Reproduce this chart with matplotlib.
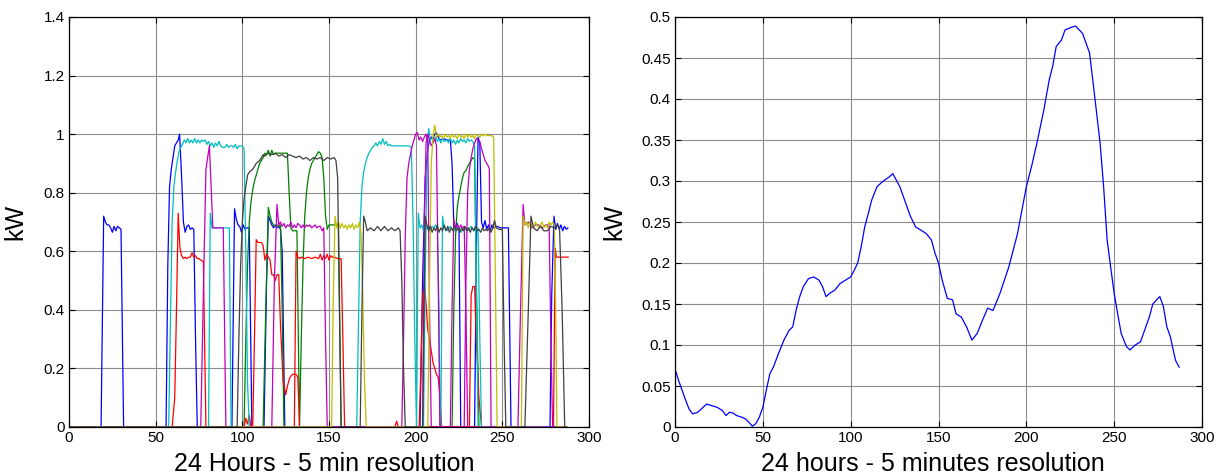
import matplotlib
matplotlib.use('Agg')
import matplotlib.pyplot as plt
from matplotlib.ticker import FuncFormatter

plt.rcParams['font.family'] = ['Liberation Sans', 'DejaVu Sans']

# ---- left panel: appliance on/off cycles, (x breakpoints, kW) ----
blue_cycles = [
    ([18.5, 20, 21, 22, 23, 24, 25, 26, 27, 28, 29, 30, 31.5],
     [0, 0.72, 0.70, 0.69, 0.69, 0.68, 0.665, 0.685, 0.67, 0.685, 0.68, 0.675, 0]),
    ([56, 57, 58, 59, 60, 61, 62, 63, 63.8, 65, 66, 67, 68, 69, 70, 71, 72, 73, 74],
     [0, 0.55, 0.82, 0.88, 0.92, 0.96, 0.97, 0.98, 1.0, 0.85, 0.70, 0.665, 0.685, 0.69, 0.675, 0.68, 0.675, 0.3, 0]),
    ([94, 95.5, 96.5, 97.5, 98.5, 99.5, 100.5, 101.5, 102.5, 104, 105.5],
     [0, 0.745, 0.71, 0.69, 0.685, 0.665, 0.69, 0.675, 0.68, 0.68, 0]),
    ([112.5, 114, 115, 116, 117, 118, 119, 120, 121, 122, 123, 124.5],
     [0, 0.5, 0.72, 0.705, 0.69, 0.68, 0.69, 0.68, 0.685, 0.675, 0.6, 0]),
    ([202.5, 204, 205.5, 207, 208, 209, 210, 211, 212, 213, 214, 216, 218, 220, 221, 222, 223, 224, 225, 226],
     [0, 0.5, 0.85, 0.95, 0.98, 0.99, 0.985, 1.0, 1.005, 0.99, 0.98, 0.985, 0.98, 0.98, 0.9, 0.69, 0.68, 0.695, 0.675, 0]),
    ([234, 235, 236, 237, 238, 239, 240, 241, 242, 243, 244, 245, 247, 249, 251, 253.5, 255],
     [0, 0.6, 0.99, 0.97, 0.7, 0.68, 0.705, 0.675, 0.69, 0.67, 0.69, 0.68, 0.685, 0.68, 0.68, 0.68, 0]),
    ([277.5, 278.5, 279.8, 280.8, 281.8, 282.8, 283.8, 284.8, 285.8, 286.8, 287.8],
     [0, 0.45, 0.72, 0.675, 0.695, 0.675, 0.69, 0.67, 0.685, 0.675, 0.68]),
]

red_cycles = [
    ([59.5, 61, 62, 63, 64, 65, 66, 67, 68, 69, 70, 71, 72, 73, 74, 75, 76, 77.5, 79],
     [0, 0.1, 0.4, 0.73, 0.61, 0.585, 0.575, 0.58, 0.575, 0.58, 0.58, 0.595, 0.58, 0.585, 0.575, 0.575, 0.57, 0.565, 0]),
    ([101, 102, 103, 104, 105],
     [0, 0.03, 0.01, 0.04, 0]),
    ([106, 107, 108, 109, 110, 111, 112, 113, 114, 115, 116, 117, 118, 119, 120, 121, 122,
      123.5, 125, 126, 127.5, 129, 131, 132, 133],
     [0, 0.3, 0.64, 0.63, 0.63, 0.63, 0.62, 0.57, 0.59, 0.58, 0.57, 0.52, 0.52, 0.50, 0.52, 0.52, 0.35,
      0.16, 0.11, 0.14, 0.17, 0.18, 0.18, 0.17, 0]),
    ([130, 131, 132, 133, 134, 136, 138, 140, 142, 144, 145, 146, 147, 148, 149, 150, 151, 152, 153, 155, 157, 158, 159],
     [0, 0.6, 0.58, 0.575, 0.58, 0.575, 0.58, 0.575, 0.58, 0.575, 0.59, 0.57, 0.585, 0.575, 0.59, 0.57, 0.585,
      0.58, 0.58, 0.575, 0.575, 0.3, 0]),
    ([188, 189, 190], [0, 0.02, 0]),
    ([202, 203, 204, 205, 206, 207, 208, 209, 210, 211, 212, 213, 214, 215],
     [0, 0.2, 0.45, 0.49, 0.42, 0.33, 0.3, 0.26, 0.22, 0.2, 0.18, 0.17, 0.1, 0]),
    ([231, 232, 233, 234, 235, 236.5, 238],
     [0, 0.45, 0.48, 0.48, 0.3, 0.1, 0]),
    ([279.5, 280.5, 281.2, 282, 284, 286, 288],
     [0, 0.61, 0.58, 0.58, 0.58, 0.58, 0.58]),
]

green_cycles = [
    ([101, 102, 103, 104, 105, 106, 107, 108, 109, 110, 111, 112, 113, 114, 115, 116, 117, 118, 119, 120,
      122, 124, 126, 127, 128, 129, 130, 131.5, 133],
     [0, 0.3, 0.55, 0.7, 0.77, 0.81, 0.84, 0.86, 0.88, 0.9, 0.91, 0.92, 0.935, 0.93, 0.945, 0.925, 0.945, 0.93, 0.935, 0.935,
      0.935, 0.935, 0.935, 0.8, 0.68, 0.67, 0.67, 0.67, 0]),
    ([112, 113.5, 115, 116, 117, 118, 119, 120, 121, 122, 123, 124],
     [0, 0.4, 0.75, 0.72, 0.70, 0.69, 0.685, 0.69, 0.685, 0.69, 0.4, 0]),
    ([133, 134, 135, 136, 137, 138, 139, 140, 141, 142, 143, 144, 145, 146, 147, 148, 149, 150, 152, 154, 155.5, 157],
     [0, 0.3, 0.55, 0.72, 0.8, 0.85, 0.88, 0.9, 0.91, 0.92, 0.93, 0.94, 0.935, 0.92, 0.85, 0.72, 0.675, 0.69, 0.69, 0.69, 0.69, 0]),
    ([221, 222, 223, 224, 225, 226, 227, 228, 229, 230, 231, 232, 233, 234, 235, 236.5],
     [0, 0.4, 0.65, 0.75, 0.79, 0.82, 0.85, 0.87, 0.875, 0.89, 0.9, 0.91, 0.92, 0.915, 0.5, 0]),
]

cyan_cycles = [
    ([57.5, 58.5, 59.5, 60.5, 61.5, 62.5, 63.5, 64.5, 65.5, 66.5, 67.5, 68.5, 69.5, 70.5, 71.5, 72.5, 73.5, 74.5,
      75.5, 76.5, 77.5, 78.5, 79.5, 80.5, 81.5, 82.5, 83.5, 84.5, 85.5, 86.5, 87.5, 88.5, 90, 91, 92, 93, 94, 95,
      96, 97, 98, 99, 100, 101, 102, 103, 104],
     [0, 0.35, 0.7, 0.82, 0.87, 0.91, 0.94, 0.955, 0.965, 0.98, 0.97, 0.985, 0.97, 0.98, 0.97, 0.985, 0.97, 0.98,
      0.97, 0.98, 0.975, 0.98, 0.965, 0.975, 0.96, 0.97, 0.955, 0.97, 0.96, 0.975, 0.96, 0.955, 0.955, 0.965, 0.955,
      0.96, 0.96, 0.955, 0.965, 0.95, 0.96, 0.96, 0.96, 0.95, 0.6, 0.15, 0]),
    ([80.5, 81.5, 82.5, 84, 86, 88, 90, 92.5, 93.5],
     [0, 0.73, 0.68, 0.68, 0.68, 0.68, 0.68, 0.68, 0]),
    ([166, 167, 168, 169, 170, 171, 172, 173, 174, 175, 176, 177, 178, 179, 180, 181, 182, 183, 184, 185, 186,
      188, 190, 192, 194, 196, 197.5, 198.5, 199.5, 200.5],
     [0, 0.35, 0.7, 0.82, 0.87, 0.9, 0.92, 0.935, 0.945, 0.955, 0.96, 0.97, 0.96, 0.975, 0.965, 0.985, 0.965, 0.975,
      0.96, 0.965, 0.96, 0.96, 0.96, 0.96, 0.96, 0.96, 0.955, 0.7, 0.3, 0]),
    ([200.5, 201.5, 202.5, 203.5, 204.5, 205.5, 206.5, 207.5, 208.5, 209.5, 210.5, 211.5, 212.5, 213.5, 214],
     [0, 0.73, 0.68, 0.69, 0.67, 0.695, 0.675, 0.69, 0.67, 0.685, 0.68, 0.69, 0.675, 0.4, 0]),
    ([204.5, 205.5, 206.5, 207.5, 208.5, 209.5, 210.5, 211.5, 212.5, 213.5, 214.5, 215.5, 216.5, 218, 219, 220,
      221, 222, 223, 224, 225, 226, 227, 228, 229, 230, 231, 232, 233, 234, 235, 236],
     [0, 0.5, 0.9, 1.02, 0.98, 0.985, 0.975, 0.99, 0.975, 0.985, 0.97, 0.985, 0.975, 0.98, 0.97, 0.985,
      0.97, 0.98, 0.965, 0.98, 0.97, 0.985, 0.975, 0.98, 0.97, 0.985, 0.975, 0.98, 0.975, 0.96, 0.5, 0]),
    ([214.5, 215.5, 216.5, 218, 220, 222, 224, 226, 228, 230, 232, 234, 236, 237, 238],
     [0, 0.72, 0.68, 0.67, 0.685, 0.67, 0.68, 0.665, 0.68, 0.67, 0.685, 0.67, 0.68, 0.3, 0]),
]

magenta_cycles = [
    ([76, 77, 78, 79, 80, 81, 82, 83, 85, 87, 89, 90.5],
     [0, 0.3, 0.6, 0.88, 0.92, 0.96, 0.82, 0.68, 0.68, 0.68, 0.68, 0]),
    ([117, 118.5, 120, 121, 122, 123, 124, 125, 126, 127, 128, 129, 130, 131, 132, 133, 134, 135, 136, 137, 138,
      139, 140, 141, 142, 143, 144, 145, 146, 147, 148, 149],
     [0, 0.5, 0.76, 0.69, 0.7, 0.685, 0.695, 0.68, 0.69, 0.685, 0.7, 0.68, 0.69, 0.68, 0.695, 0.69, 0.68, 0.69,
      0.68, 0.69, 0.685, 0.69, 0.68, 0.685, 0.69, 0.68, 0.685, 0.685, 0.67, 0.68, 0.3, 0]),
    ([192, 193, 194, 195, 196, 197, 198, 199, 200, 201, 202, 203, 204, 205, 206, 207, 208, 209],
     [0, 0.3, 0.65, 0.85, 0.9, 0.93, 0.96, 0.98, 1.0, 1.005, 0.98, 0.99, 0.975, 0.99, 1.0, 0.97, 0.4, 0]),
    ([204, 205, 206, 207, 208, 209, 210, 211, 212, 213, 214],
     [0, 0.7, 0.97, 1.0, 0.98, 0.96, 0.97, 0.985, 0.96, 0.5, 0]),
    ([220, 221, 222, 223, 224, 225, 226, 227, 228, 229, 230],
     [0, 0.4, 0.71, 0.68, 0.69, 0.675, 0.69, 0.68, 0.685, 0.4, 0]),
    ([228, 229, 230, 231, 232, 233, 234, 235, 236, 237, 238, 239, 240, 241, 242, 242.5, 243.5],
     [0, 0.5, 0.8, 0.88, 0.92, 0.95, 0.97, 0.985, 0.98, 0.975, 0.95, 0.93, 0.91, 0.9, 0.89, 0.88, 0]),
    ([259, 260.5, 262, 263, 265, 267, 269, 271, 273, 275, 277, 278, 279],
     [0, 0.4, 0.76, 0.69, 0.7, 0.68, 0.69, 0.69, 0.68, 0.69, 0.69, 0.3, 0]),
]

yellow_cycles = [
    ([151.5, 152.5, 153.5, 154.5, 155.5, 156.5, 157.5, 158.5, 159.5, 160.5, 161.5, 162.5, 163.5, 164.5, 165.5,
      166.5, 167.5, 168.5, 169.5, 170.5, 171.5],
     [0, 0.45, 0.72, 0.68, 0.7, 0.68, 0.695, 0.68, 0.69, 0.675, 0.69, 0.68, 0.695, 0.675, 0.69,
      0.68, 0.7, 0.66, 0.45, 0.15, 0]),
    ([207, 208, 209, 210, 211, 212, 213, 214, 215, 216, 217, 218, 219, 220, 221, 222, 223, 224, 225, 226, 227,
      228, 229, 230, 231, 232, 233, 234, 235, 236, 237, 238, 239, 240, 241, 242, 243, 244, 245, 246, 247],
     [0, 0.5, 0.9, 0.99, 1.03, 0.99, 1.0, 0.99, 0.995, 0.985, 1.0, 0.99, 0.995, 0.985, 1.0, 0.99, 0.995, 0.985,
      1.0, 0.99, 0.995, 0.985, 1.0, 0.99, 1.0, 0.99, 0.995, 0.985, 1.0, 0.995, 0.99, 1.0, 0.995, 1.0, 0.995,
      0.995, 0.995, 0.995, 0.99, 0.5, 0]),
    ([261, 262, 263, 264, 265, 266, 267, 268, 269, 270, 271, 272, 273, 274, 275, 276, 277, 278, 279, 280, 281, 281.5],
     [0, 0.72, 0.69, 0.7, 0.68, 0.7, 0.69, 0.68, 0.7, 0.69, 0.68, 0.69, 0.7, 0.68, 0.69, 0.68, 0.7, 0.69, 0.7,
      0.69, 0.3, 0]),
]

black_cycles = [
    ([97, 98, 99, 100, 101, 102, 103, 104, 105, 106, 107, 108, 109, 110, 111, 112, 113, 115, 117, 119, 121, 123,
      125, 127, 129, 131, 133, 135, 137, 139, 141, 143, 145, 147, 149, 151, 153, 154, 155, 156, 157],
     [0, 0.3, 0.55, 0.7, 0.78, 0.82, 0.86, 0.87, 0.875, 0.88, 0.89, 0.9, 0.905, 0.91, 0.92, 0.93, 0.925, 0.935,
      0.93, 0.935, 0.925, 0.93, 0.92, 0.93, 0.925, 0.92, 0.925, 0.915, 0.92, 0.91, 0.92, 0.915, 0.92, 0.91, 0.92,
      0.915, 0.92, 0.91, 0.85, 0.4, 0]),
    ([168, 169, 170, 171, 172, 174, 176, 178, 180, 182, 184, 186, 188, 190, 191, 192, 193, 194],
     [0, 0.4, 0.72, 0.7, 0.67, 0.68, 0.67, 0.685, 0.67, 0.685, 0.67, 0.68, 0.67, 0.68, 0.67, 0.5, 0.2, 0]),
    ([204, 205.5, 206.5, 207.5, 208.5, 209.5, 210.5, 211.5, 212.5, 213.5, 214.5, 215.5, 216.5, 217.5, 218.5,
      219.5, 220.5, 221.5, 222.5, 223.5, 224.5, 225.5, 226.5, 227.5, 228.5, 229.5, 230.5, 231.5, 232.5, 233.5,
      234.5, 235.5, 236.5, 237.5, 238.5, 239.5, 240.5, 241.5, 242.5, 243.5, 244.5, 245.5, 246.5, 248, 250, 251, 252],
     [0, 0.72, 0.69, 0.67, 0.685, 0.665, 0.68, 0.67, 0.69, 0.665, 0.68, 0.67, 0.69, 0.67, 0.685,
      0.665, 0.68, 0.67, 0.685, 0.67, 0.68, 0.665, 0.68, 0.67, 0.685, 0.67, 0.68, 0.665, 0.68, 0.67,
      0.685, 0.67, 0.675, 0.665, 0.68, 0.67, 0.675, 0.67, 0.68, 0.665, 0.68, 0.705, 0.68, 0.675, 0.675, 0.3, 0]),
    ([263, 265, 266.5, 268, 270, 272, 274, 276, 278, 280, 282, 283, 284.5, 286],
     [0, 0.4, 0.72, 0.68, 0.67, 0.685, 0.67, 0.67, 0.685, 0.68, 0.69, 0.68, 0.4, 0]),
]

# ---- right panel: aggregated load profile ----
load_x = [0, 2, 4, 6, 8, 10, 13, 16, 18, 21, 24, 27, 29, 31, 33, 35, 38, 40, 42, 44, 46, 48, 50, 52, 54, 56,
          59, 62, 65, 67, 69, 71, 73, 76, 79, 82, 84, 86, 88, 91, 94, 97, 100, 102, 104, 106, 108, 110, 112,
          115, 118, 122, 124, 126, 128, 130, 132, 134, 137, 140, 143, 146, 148, 150, 152, 155, 158, 160, 163,
          166, 169, 172, 175, 178, 181, 185, 190, 195, 200, 203, 206, 210, 213, 215, 217, 220, 222, 225, 228,
          232, 234, 236, 238, 240, 242, 244, 246, 248, 250, 252, 254, 257, 259, 262, 265, 268, 270, 272, 275,
          276, 278, 280, 282, 284, 285, 287]
load_y = [0.071, 0.057, 0.045, 0.033, 0.022, 0.016, 0.018, 0.024, 0.028, 0.026, 0.024, 0.02, 0.014, 0.018,
          0.017, 0.014, 0.012, 0.01, 0.006, 0.001, 0.004, 0.012, 0.024, 0.045, 0.065, 0.073, 0.09, 0.106, 0.118,
          0.122, 0.143, 0.159, 0.171, 0.181, 0.183, 0.179, 0.171, 0.159, 0.163, 0.167, 0.175, 0.179, 0.183, 0.191,
          0.2, 0.22, 0.244, 0.26, 0.277, 0.293, 0.299, 0.305, 0.309, 0.301, 0.293, 0.281, 0.269, 0.257, 0.244,
          0.24, 0.236, 0.228, 0.212, 0.2, 0.18, 0.157, 0.155, 0.138, 0.134, 0.122, 0.106, 0.114, 0.13, 0.145,
          0.142, 0.163, 0.195, 0.236, 0.293, 0.318, 0.346, 0.387, 0.423, 0.44, 0.464, 0.472, 0.484, 0.487, 0.489,
          0.48, 0.468, 0.456, 0.42, 0.383, 0.346, 0.293, 0.228, 0.195, 0.163, 0.138, 0.114, 0.098, 0.094, 0.1,
          0.104, 0.122, 0.134, 0.15, 0.157, 0.159, 0.147, 0.122, 0.11, 0.09, 0.081, 0.073]

colors = {
    'blue': '#0000ff',
    'green': '#008000',
    'red': '#ff0000',
    'cyan': '#00bfbf',
    'magenta': '#bf00bf',
    'yellow': '#bfbf00',
    'black': '#404040',
}


def day_series(cycles, day_end=287):
    # pack non-overlapping cycles into full-day traces starting and ending at 0 kW
    series = []
    for xs, ys in sorted(cycles, key=lambda c: c[0][0]):
        for s in series:
            if s[0][-1] <= xs[0]:
                s[0].extend(xs)
                s[1].extend(ys)
                break
        else:
            series.append(([0] + list(xs), [0] + list(ys)))
    for s in series:
        if s[0][-1] < day_end:
            s[0].append(day_end)
            s[1].append(0)
    return series


def style_axes(ax):
    ax.set_xlim(0, 300)
    ax.set_xticks(range(0, 301, 50))
    ax.grid(True, color='#8c8c8c', linewidth=0.8)
    ax.set_axisbelow(True)
    ax.tick_params(direction='in', top=True, right=True, length=4, width=0.8,
                   labelsize=11, pad=3, colors='black')
    for sp in ax.spines.values():
        sp.set_linewidth(0.9)
    ax.yaxis.set_major_formatter(FuncFormatter(lambda v, p: '%g' % round(v, 4)))


fig = plt.figure(figsize=(12.16, 4.76), dpi=100)

ax1 = fig.add_axes([69 / 1216, 49 / 476, 520 / 1216, 410 / 476])
order = [('blue', blue_cycles), ('green', green_cycles), ('red', red_cycles), ('cyan', cyan_cycles),
         ('magenta', magenta_cycles), ('yellow', yellow_cycles), ('black', black_cycles)]
for name, cycles in order:
    for xs, ys in day_series(cycles):
        ax1.plot(xs, ys, color=colors[name], linewidth=0.9)
style_axes(ax1)
ax1.set_ylim(0, 1.4)
ax1.set_yticks([0, 0.2, 0.4, 0.6, 0.8, 1.0, 1.2, 1.4])
ax1.set_xlabel('24 Hours - 5 min resolution', fontsize=18)
ax1.set_ylabel('kW', fontsize=18)
ax1.xaxis.set_label_coords(0.49, -0.06)
ax1.yaxis.set_label_coords(-0.08, 0.5)

ax2 = fig.add_axes([675 / 1216, 49 / 476, 527 / 1216, 410 / 476])
ax2.plot(load_x, load_y, color='#0000ff', linewidth=0.9)
style_axes(ax2)
ax2.set_ylim(0, 0.5)
ax2.set_yticks([0, 0.05, 0.1, 0.15, 0.2, 0.25, 0.3, 0.35, 0.4, 0.45, 0.5])
ax2.set_xlabel('24 hours - 5 minutes resolution', fontsize=18)
ax2.set_ylabel('kW', fontsize=18)
ax2.xaxis.set_label_coords(0.49, -0.06)
ax2.yaxis.set_label_coords(-0.092, 0.5)

fig.savefig('out.png', dpi=100)
